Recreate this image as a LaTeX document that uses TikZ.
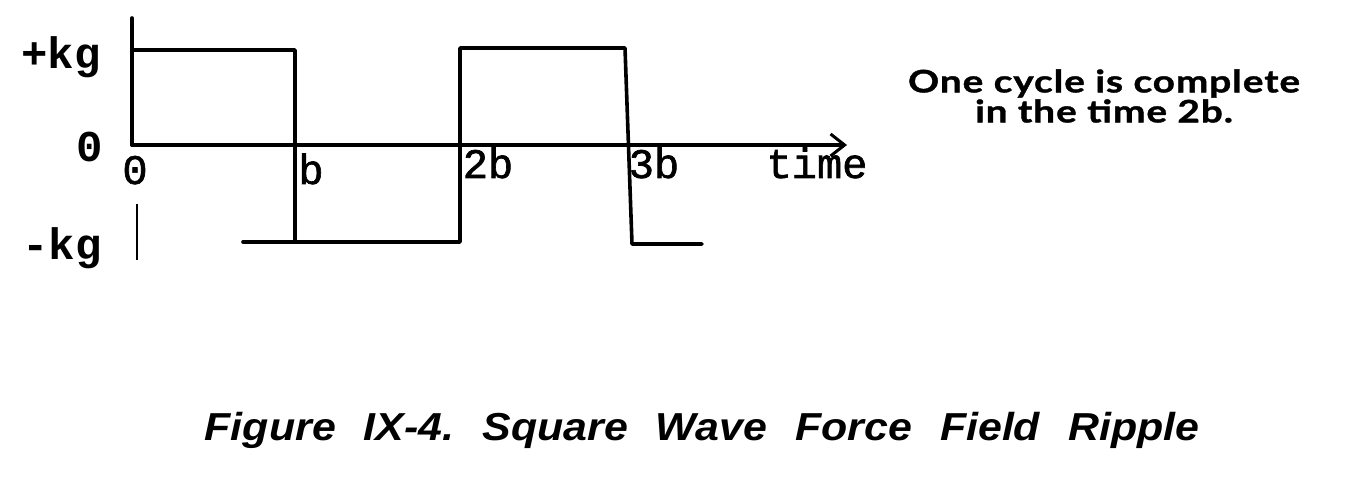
\documentclass[tikz,border=0pt]{standalone}
\usepackage{fontspec}
\usetikzlibrary{arrows.meta}
\newfontfamily\capfont[FakeStretch=1.1]{Liberation Sans}
\newfontfamily\notefont[FakeStretch=1.25,LetterSpace=3,BoldFeatures={FakeBold=1.2}]{Lato}
\newfontfamily\twfont{Liberation Mono}
\newfontfamily\twtick[FakeBold=1.5]{Liberation Mono}
\tikzset{
  wave/.style={line width=3.6pt, line join=round, line cap=round},
  thinmark/.style={line width=2pt},
  axislbl/.style={font=\twfont\bfseries\fontsize{44}{44}\selectfont, inner sep=0pt, anchor=base},
  ticklbl/.style={font=\twtick\fontsize{42}{42}\selectfont, inner sep=0pt, anchor=base},
  note/.style={font=\notefont\bfseries\fontsize{31}{30}\selectfont, align=center, inner sep=0pt},
  caption/.style={font=\capfont\bfseries\itshape\fontsize{39}{39}\selectfont, inner sep=0pt, anchor=base}
}
\newcommand{\gapw}{\hspace{28pt}}
\begin{document}
\begin{tikzpicture}[x=1pt,y=-1pt]
\useasboundingbox (0,0) rectangle (1352,481);
% coordinates
\coordinate (top0) at (132,18);
\coordinate (o) at (132,145);
\coordinate (p0) at (132,50);
\coordinate (p1) at (295,50);
\coordinate (m1) at (295,242);
\coordinate (m2) at (460,242);
\coordinate (p2) at (460,48);
\coordinate (p3) at (625,48);
\coordinate (m3) at (632,244);
\coordinate (m4) at (702,244);
\coordinate (axend) at (847,145);
% axis
\draw[wave, -{Straight Barb[length=14pt,width=22pt,line width=3pt]}] (o) -- (axend);
% wave
\draw[wave] (top0) -- (o);
\draw[wave] (p0) -- (p1) -- (m1) -- (m2) -- (p2) -- (p3) -- (m3) -- (m4);
% extra marks
\coordinate (t1) at (137,204);
\coordinate (t2) at (137,260);
\draw[thinmark] (t1) -- (t2);
\coordinate (d1) at (243,242);
\draw[wave] (d1) -- (m1);
% labels
\node[axislbl] (lplus) at (61,69) {+kg};
\node[axislbl] (lzero) at (90,162) {0};
\node[axislbl] (lminus) at (62,259) {-kg};
\node[ticklbl] (t0) at (135,184) {0};
\node[ticklbl] (tb) at (311,184) {b};
\node[ticklbl] (t2b) at (488,178) {2b};
\node[ticklbl] (t3b) at (654,178) {3b};
\node[ticklbl] (ttime) at (817,178) {time};
\node[note] (note) at (1104,96) {One cycle is complete\\in the time 2b.};
\node[caption] (cap) at (702,440) {Figure\gapw IX-4.\gapw Square\gapw Wave\gapw Force\gapw Field\gapw Ripple};
\end{tikzpicture}
\end{document}
